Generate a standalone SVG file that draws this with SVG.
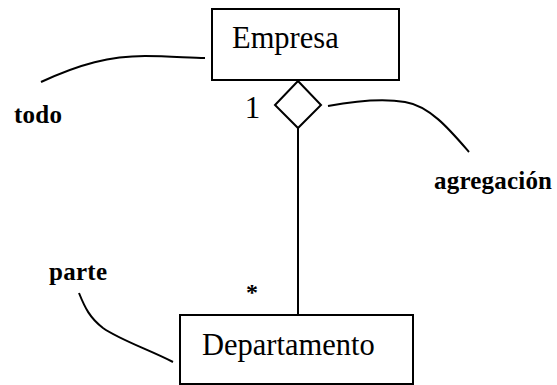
<svg xmlns="http://www.w3.org/2000/svg" width="557" height="385" viewBox="0 0 557 385">
<style>
.box{fill:#fff;stroke:#000;stroke-width:2}
.ln{fill:none;stroke:#000;stroke-width:2}
.name{font-family:"Liberation Serif","Times New Roman",serif;font-size:30.5px;fill:#000}
.lbl{font-family:"Liberation Serif","Times New Roman",serif;font-size:25px;font-weight:bold;fill:#000}
.mult{font-family:"Liberation Serif","Times New Roman",serif;fill:#000}
</style>
<rect width="557" height="385" fill="#fff"/>
<g id="connectors">
<line class="ln" x1="298" y1="128" x2="298" y2="315"/>
<path class="ln" d="M41,82 C80,64 110,56 145,56 C170,56 190,58 205,58"/>
<path class="ln" d="M328,106 C350,102 380,98 405,102 C430,106 450,130 469,152"/>
<path class="ln" d="M79,293 C85,308 90,318 103,328 C120,340 150,350 173,362"/>
</g>
<g id="empresa">
<rect class="box" x="212" y="9" width="187" height="71"/>
<text class="name" x="232" y="48">Empresa</text>
</g>
<g id="departamento">
<rect class="box" x="180" y="315" width="233" height="69"/>
<text class="name" x="202" y="355">Departamento</text>
</g>
<g id="aggregation">
<polygon class="box" points="298,81 321,105 298,128 275,105"/>
</g>
<g id="labels">
<text class="mult" x="252.5" y="118" font-size="31" text-anchor="middle">1</text>
<text class="mult" x="252" y="300" font-size="24" font-weight="bold" text-anchor="middle">*</text>
<text class="lbl" x="14" y="123" textLength="48">todo</text>
<text class="lbl" x="49" y="280" textLength="58">parte</text>
<text class="lbl" x="434" y="189" textLength="118">agregación</text>
</g>
</svg>
